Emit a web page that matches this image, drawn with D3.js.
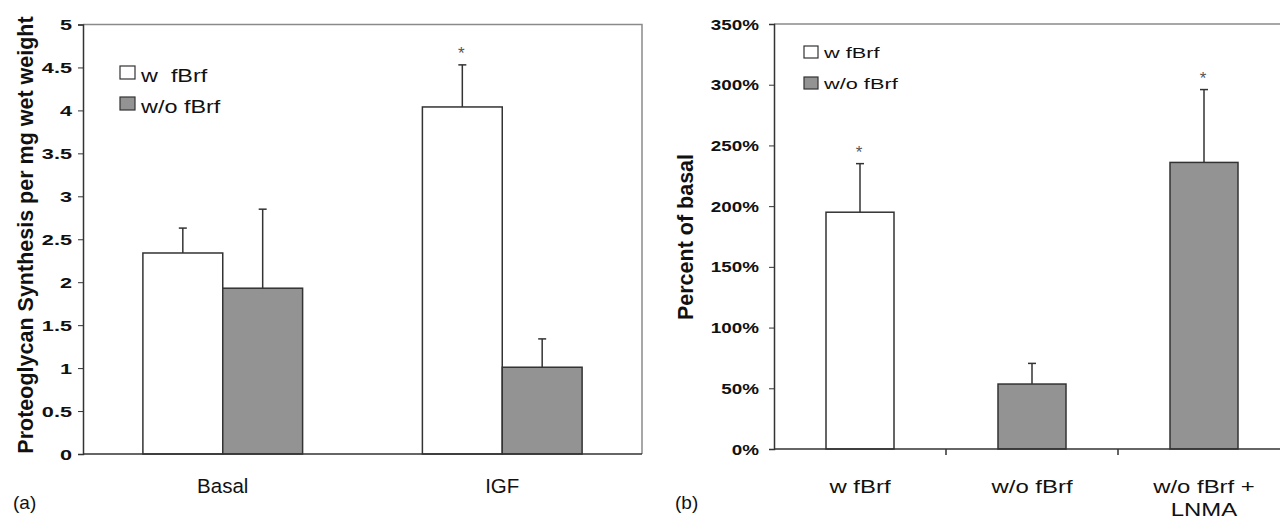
<!DOCTYPE html>
<html>
<head>
<meta charset="utf-8">
<script src="https://cdn.jsdelivr.net/npm/d3@7"></script>
<style>
  body { margin: 0; background: #fff; }
  svg { display: block; font-family: "Liberation Sans", Arial, sans-serif; }
  text { fill: #111; }
  .star { fill: #555; }
</style>
</head>
<body>
<script>
//data for panel (a)
var catsA = ["Basal", "IGF"];
var seriesA = ["w  fBrf", "w/o fBrf"];
var meanWithA = [2.34, 4.04];
var errWithA = [0.29, 0.49];
var meanWithoutA = [1.93, 1.01];
var errWithoutA = [0.92, 0.33];
var starWithA = [false, true];
var starWithoutA = [false, false];
var ticksA = [0, 0.5, 1, 1.5, 2, 2.5, 3, 3.5, 4, 4.5, 5];

//data for panel (b)
var catsB = [["w fBrf"], ["w/o fBrf"], ["w/o fBrf +", "LNMA"]];
var seriesB = ["w fBrf", "w/o fBrf"];
var meanB = [195, 53.5, 236];
var errB = [40, 17, 60];
var groupB = [0, 1, 1]; //which series each bar belongs to
var starB = [true, false, true];
var ticksB = [0, 50, 100, 150, 200, 250, 300, 350];

var fills = ["#ffffff", "#939393"];

(function (){

    var svg = d3.select("body").append("svg")
        .attr("width", 1280)
        .attr("height", 520);

    //---------- panel (a) ----------
    var xA = d3.scaleBand().domain(catsA).range([83, 642]);
    var inner = d3.scaleBand().domain([0, 1]).range([0, xA.bandwidth()]).paddingInner(0).paddingOuter(0.75);
    var yA = d3.scaleLinear().domain([0, 5]).range([454, 24.5]);

    var gA = svg.append("g");

    //frame top/right
    gA.append("path")
        .attr("d", "M83,24.5H642V454")
        .attr("fill", "none").attr("stroke", "#8a8a8a").attr("stroke-width", 1.5);

    var barsA = [];
    catsA.forEach(function(c, i){
        barsA.push({cat: c, s: 0, v: meanWithA[i], e: errWithA[i], star: starWithA[i]});
        barsA.push({cat: c, s: 1, v: meanWithoutA[i], e: errWithoutA[i], star: starWithoutA[i]});
    });

    drawBars(gA, barsA, function(d){ return xA(d.cat) + inner(d.s); }, inner.bandwidth(), yA);

    //axes
    var gyA = gA.append("g").attr("transform", "translate(83,0)")
        .call(d3.axisLeft(yA).tickValues(ticksA).tickSize(5).tickFormat(""));
    styleAxis(gyA);
    ticksA.forEach(function(t){
        stext(gA, 72, yA(t) + 5.5, String(t), 15.5, 1.4, "end", "bold");
    });
    gA.append("line").attr("x1", 83).attr("x2", 642).attr("y1", 454).attr("y2", 454)
        .attr("stroke", "#333").attr("stroke-width", 1.5);

    catsA.forEach(function(c){
        stext(gA, xA(c) + xA.bandwidth() / 2, 493, c, 20.5, 1.0, "middle", "normal");
    });

    gA.append("text")
        .attr("transform", "translate(33,235) rotate(-90)")
        .attr("text-anchor", "middle")
        .style("font-weight", "bold").style("font-size", "21.5px")
        .text("Proteoglycan Synthesis per mg wet weight");

    legend(gA, 120, 66, 15, 13, 31, 141, 81.5, 18, 1.3, seriesA);

    stext(svg, 13, 509, "(a)", 19, 1.0, "start", "normal");

    //---------- panel (b) ----------
    var xB = d3.scaleBand().domain(d3.range(catsB.length)).range([774, 1290]);
    var yB = d3.scaleLinear().domain([0, 350]).range([449, 24]);
    var gB = svg.append("g");

    gB.append("path")
        .attr("d", "M774,24H1290")
        .attr("fill", "none").attr("stroke", "#8a8a8a").attr("stroke-width", 1.5);

    var bw = 68;
    var barsB = meanB.map(function(v, i){
        return {i: i, s: groupB[i], v: v, e: errB[i], star: starB[i]};
    });
    drawBars(gB, barsB, function(d){ return xB(d.i) + (xB.bandwidth() - bw) / 2; }, bw, yB);

    var gyB = gB.append("g").attr("transform", "translate(774,0)")
        .call(d3.axisLeft(yB).tickValues(ticksB).tickSize(5).tickFormat(""));
    styleAxis(gyB);
    ticksB.forEach(function(t){
        stext(gB, 759, yB(t) + 5.5, t + "%", 14.5, 1.3, "end", "bold");
    });

    gB.append("line").attr("x1", 774).attr("x2", 1290).attr("y1", 449).attr("y2", 449)
        .attr("stroke", "#333").attr("stroke-width", 1.5);
    //category separator ticks
    gB.selectAll(".sepB").data(d3.range(1, catsB.length)).enter().append("line")
        .attr("x1", function(d){ return xB(d); })
        .attr("x2", function(d){ return xB(d); })
        .attr("y1", 449).attr("y2", 455)
        .attr("stroke", "#333").attr("stroke-width", 1.5);

    catsB.forEach(function(lines, i){
        lines.forEach(function(t, j){
            stext(gB, xB(i) + xB.bandwidth() / 2, 492.5 + j * 23, t, 18, 1.33, "middle", "normal");
        });
    });

    gB.append("text")
        .attr("transform", "translate(693,237) rotate(-90)")
        .attr("text-anchor", "middle")
        .style("font-weight", "bold").style("font-size", "21.5px")
        .text("Percent of basal");

    legend(gB, 804, 46, 14, 12, 31, 824, 57.5, 15, 1.45, seriesB);

    stext(svg, 675, 509, "(b)", 19, 1.0, "start", "normal");

    //---------- helpers ----------
    //text with a horizontal stretch, like the scanned figure
    function stext(g, x, y, str, fs, sx, anchor, weight){
        return g.append("text")
            .attr("transform", "translate(" + x + "," + y + ") scale(" + sx + ",1)")
            .attr("text-anchor", anchor)
            .style("white-space", "pre")
            .style("font-size", fs + "px")
            .style("font-weight", weight)
            .text(str);
    }

    function drawBars(g, data, xf, w, y){
        g.selectAll(".bar").data(data).enter().append("rect")
            .attr("x", xf)
            .attr("width", w)
            .attr("y", function(d){ return y(d.v); })
            .attr("height", function(d){ return y(0) - y(d.v); })
            .attr("fill", function(d){ return fills[d.s]; })
            .attr("stroke", "#333").attr("stroke-width", 1.5);

        g.selectAll(".err").data(data).enter().append("line")
            .attr("x1", function(d){ return xf(d) + w / 2; })
            .attr("x2", function(d){ return xf(d) + w / 2; })
            .attr("y1", function(d){ return y(d.v); })
            .attr("y2", function(d){ return y(d.v + d.e); })
            .attr("stroke", "#333").attr("stroke-width", 1.5);

        g.selectAll(".cap").data(data).enter().append("line")
            .attr("x1", function(d){ return xf(d) + w / 2 - 4; })
            .attr("x2", function(d){ return xf(d) + w / 2 + 4; })
            .attr("y1", function(d){ return y(d.v + d.e); })
            .attr("y2", function(d){ return y(d.v + d.e); })
            .attr("stroke", "#333").attr("stroke-width", 1.5);

        g.selectAll(".star").data(data.filter(function(d){ return d.star; })).enter().append("text")
            .attr("class", "star")
            .attr("text-anchor", "middle")
            .style("font-size", "17px")
            .attr("x", function(d){ return xf(d) + w / 2 - 1; })
            .attr("y", function(d){ return y(d.v + d.e) - 6; })
            .text("*");
    }

    function styleAxis(g){
        g.select(".domain").attr("stroke", "#333").attr("stroke-width", 1.5);
        g.selectAll(".tick line").attr("stroke", "#333");
    }

    function legend(g, bx, by, bwid, bh, step, tx, ty, fs, sx, names){
        names.forEach(function(name, i){
            g.append("rect")
                .attr("x", bx)
                .attr("y", by + i * step)
                .attr("width", bwid).attr("height", bh)
                .attr("fill", fills[i])
                .attr("stroke", "#333").attr("stroke-width", 1.2);
            stext(g, tx, ty + i * step, name, fs, sx, "start", "normal");
        });
    }

})();
</script>
</body>
</html>
